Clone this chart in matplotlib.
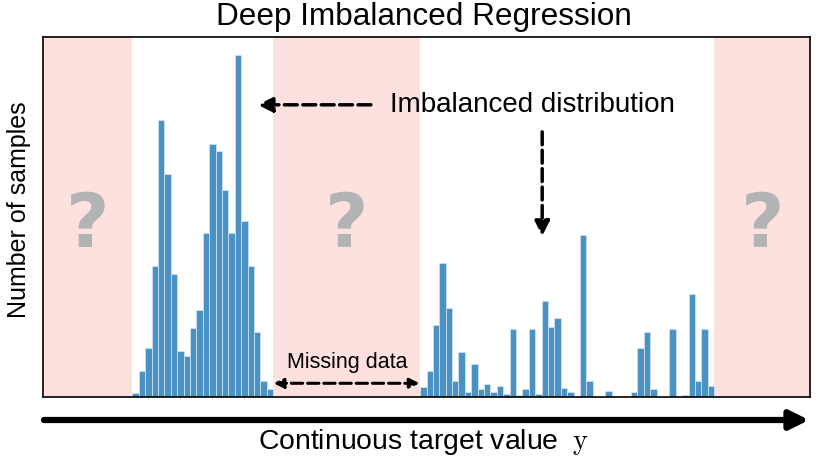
import numpy as np
import matplotlib
matplotlib.use('Agg')
from matplotlib import pyplot as plt

plt.rcParams['font.family'] = ['Liberation Sans', 'DejaVu Sans']
plt.rcParams['mathtext.fontset'] = 'cm'

# histogram counts (one value per bin)
left_start = 14
left_counts = [4, 26, 49, 131, 277, 223, 123, 46, 41, 69, 87,
               164, 253, 246, 207, 164, 342, 176, 131, 65, 16, 8]
right_start = 59
right_counts = [10, 26, 72, 134, 89, 16, 45, 5, 33, 8, 13, 5, 11, 3, 68, 2,
                8, 68, 3, 96, 70, 79, 9, 5, 1, 162, 16, 0, 0, 6, 0, 0, 0, 5,
                49, 65, 8, 0, 0, 68, 0, 2, 103, 16, 68, 11]
n_bins = 120

# regions with no data
missing_regions = [(0, 14), (36, 59), (105, 120)]

bar_color = '#4a91c4'
pink = '#fde1de'

fig = plt.figure(figsize=(8.22, 4.65), dpi=100)
ax = fig.add_axes([43 / 822, 1 - 397.3 / 465, 767 / 822, 360.6 / 465])

for a, b in missing_regions:
    ax.axvspan(a, b, color=pink, lw=0, zorder=0)

for start, counts in [(left_start, left_counts), (right_start, right_counts)]:
    xs = np.arange(start, start + len(counts))
    ax.bar(xs, counts, width=1.0, align='edge', color=bar_color,
           edgecolor='#cfe2f0', linewidth=0.6, zorder=2)

ax.set_xlim(0, n_bins)
ax.set_ylim(0, 360)
ax.set_xticks([])
ax.set_yticks([])
for s in ax.spines.values():
    s.set_linewidth(1.2)

# question marks in the empty regions
for a, b in missing_regions:
    ax.text((a + b) / 2, 171, '?', fontsize=54, fontweight='bold',
            color='#b2b3b5', ha='center', va='center',
            family='DejaVu Sans', zorder=3)

# annotations
ax.text(54.3, 292, 'Imbalanced distribution', fontsize=20,
        ha='left', va='center')
ax.annotate('', xy=(33.6, 292), xytext=(51.3, 292),
            arrowprops=dict(arrowstyle='-|>', linestyle='--', lw=2.5,
                            color='black', mutation_scale=22,
                            shrinkA=0, shrinkB=0))
ax.annotate('', xy=(78.1, 161), xytext=(78.1, 265),
            arrowprops=dict(arrowstyle='-|>', linestyle='--', lw=2.5,
                            color='black', mutation_scale=22,
                            shrinkA=0, shrinkB=0))
ax.text(47.6, 35, 'Missing data', fontsize=15.5, ha='center', va='center')
ax.annotate('', xy=(36.1, 14), xytext=(58.9, 14),
            arrowprops=dict(arrowstyle='<|-|>', linestyle='--', lw=2.2,
                            color='black', mutation_scale=14,
                            shrinkA=0, shrinkB=0))

# title and axis labels
fig.text(424 / 822, 1 - 25 / 465, 'Deep Imbalanced Regression',
         fontsize=22.7, ha='center', va='baseline')
fig.text(19 / 822, 1 - 210 / 465, 'Number of samples', fontsize=18,
         rotation=90, ha='center', va='center')
fig.text(258 / 822, 1 - 449 / 465,
         r'Continuous target value $\;\mathrm{y}$',
         fontsize=20.4, ha='left', va='baseline')

# long arrow under the axes
fig.add_artist(matplotlib.patches.FancyArrowPatch(
    (44 / 822, 1 - 420 / 465), (809 / 822, 1 - 420 / 465),
    transform=fig.transFigure, arrowstyle='-|>', lw=4.5,
    mutation_scale=28, color='black', shrinkA=0, shrinkB=0))

fig.savefig('out.png', dpi=100)
